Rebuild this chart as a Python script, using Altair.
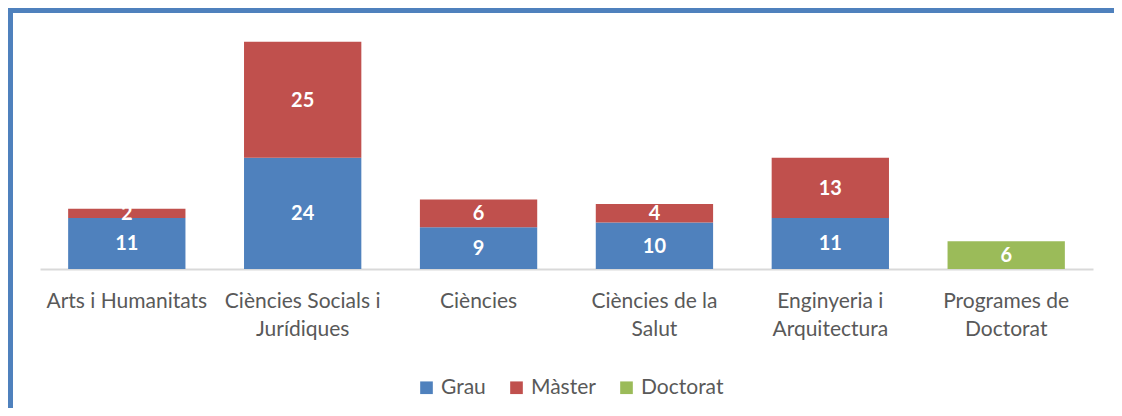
import altair as alt
import pandas as pd

categories = [
    "Arts i Humanitats",
    "Ciències Socials i\nJurídiques",
    "Ciències",
    "Ciències de la\nSalut",
    "Enginyeria i\nArquitectura",
    "Programes de\nDoctorat",
]
series = ["Grau", "Màster", "Doctorat"]
grau = [11, 24, 9, 10, 11, 0]
master = [2, 25, 6, 4, 13, 0]
doctorat = [0, 0, 0, 0, 0, 6]
colors = ["#4F81BD", "#C0504D", "#9BBB59"]

rows = []
for i, c in enumerate(categories):
    for k, (s, vals) in enumerate(zip(series, [grau, master, doctorat])):
        if vals[i] > 0:
            rows.append({"cat": c, "serie": s, "value": vals[i], "ord": k})
df = pd.DataFrame(rows)

font = "Lato"

x = alt.X(
    "cat:N",
    sort=categories,
    title=None,
    scale=alt.Scale(paddingInner=0.333, paddingOuter=0.16),
    axis=alt.Axis(
        labelExpr="split(datum.label, '\\n')",
        labelAngle=0,
        ticks=False,
        domainColor="#d9d9d9",
        domainWidth=2,
        labelColor="#595959",
        labelFont=font,
        labelFontSize=21,
        labelPadding=21,
        labelLineHeight=28,
    ),
)
yscale = alt.Scale(domain=[0, 50], nice=False)

base = alt.Chart(df)

bars = base.mark_bar().encode(
    x=x,
    y=alt.Y("value:Q", stack="zero", scale=yscale, axis=None),
    color=alt.Color(
        "serie:N",
        scale=alt.Scale(domain=series, range=colors),
        legend=alt.Legend(
            title=None,
            orient="none",
            direction="horizontal",
            legendX=376,
            legendY=340,
            symbolType="square",
            symbolSize=160,
            symbolStrokeWidth=0,
            labelFont=font,
            labelFontSize=21,
            labelColor="#595959",
            labelOffset=4,
            columnPadding=20,
            padding=0,
        ),
    ),
    order=alt.Order("ord:Q"),
)

texts = (
    base.transform_window(
        cum="sum(value)", groupby=["cat"], sort=[alt.SortField("ord")]
    )
    .transform_calculate(mid="datum.cum - datum.value / 2")
    .mark_text(
        color="white", font=font, fontSize=20, fontWeight="bold", baseline="middle", dy=1
    )
    .encode(x=x, y=alt.Y("mid:Q", scale=yscale, axis=None), text="value:Q")
)

frame_data = alt.Data(values=[{"f": 1}])
frame_top = alt.Chart(frame_data).mark_rect(color="#4F81BD").encode(
    x=alt.value(-32), x2=alt.value(1074), y=alt.value(-29), y2=alt.value(-24)
)
frame_left = alt.Chart(frame_data).mark_rect(color="#4F81BD").encode(
    x=alt.value(-32), x2=alt.value(-27), y=alt.value(-29), y2=alt.value(371)
)

chart = (
    alt.layer(bars, texts, frame_top, frame_left)
    .properties(
        width=1053,
        height=232,
        padding={"left": 32, "top": 29, "right": 21, "bottom": 139},
        autosize=alt.AutoSizeParams(type="none"),
        background="white",
    )
    .configure_view(stroke=None)
)

chart.save("out.html", embed_options={"renderer": "svg", "actions": False})
